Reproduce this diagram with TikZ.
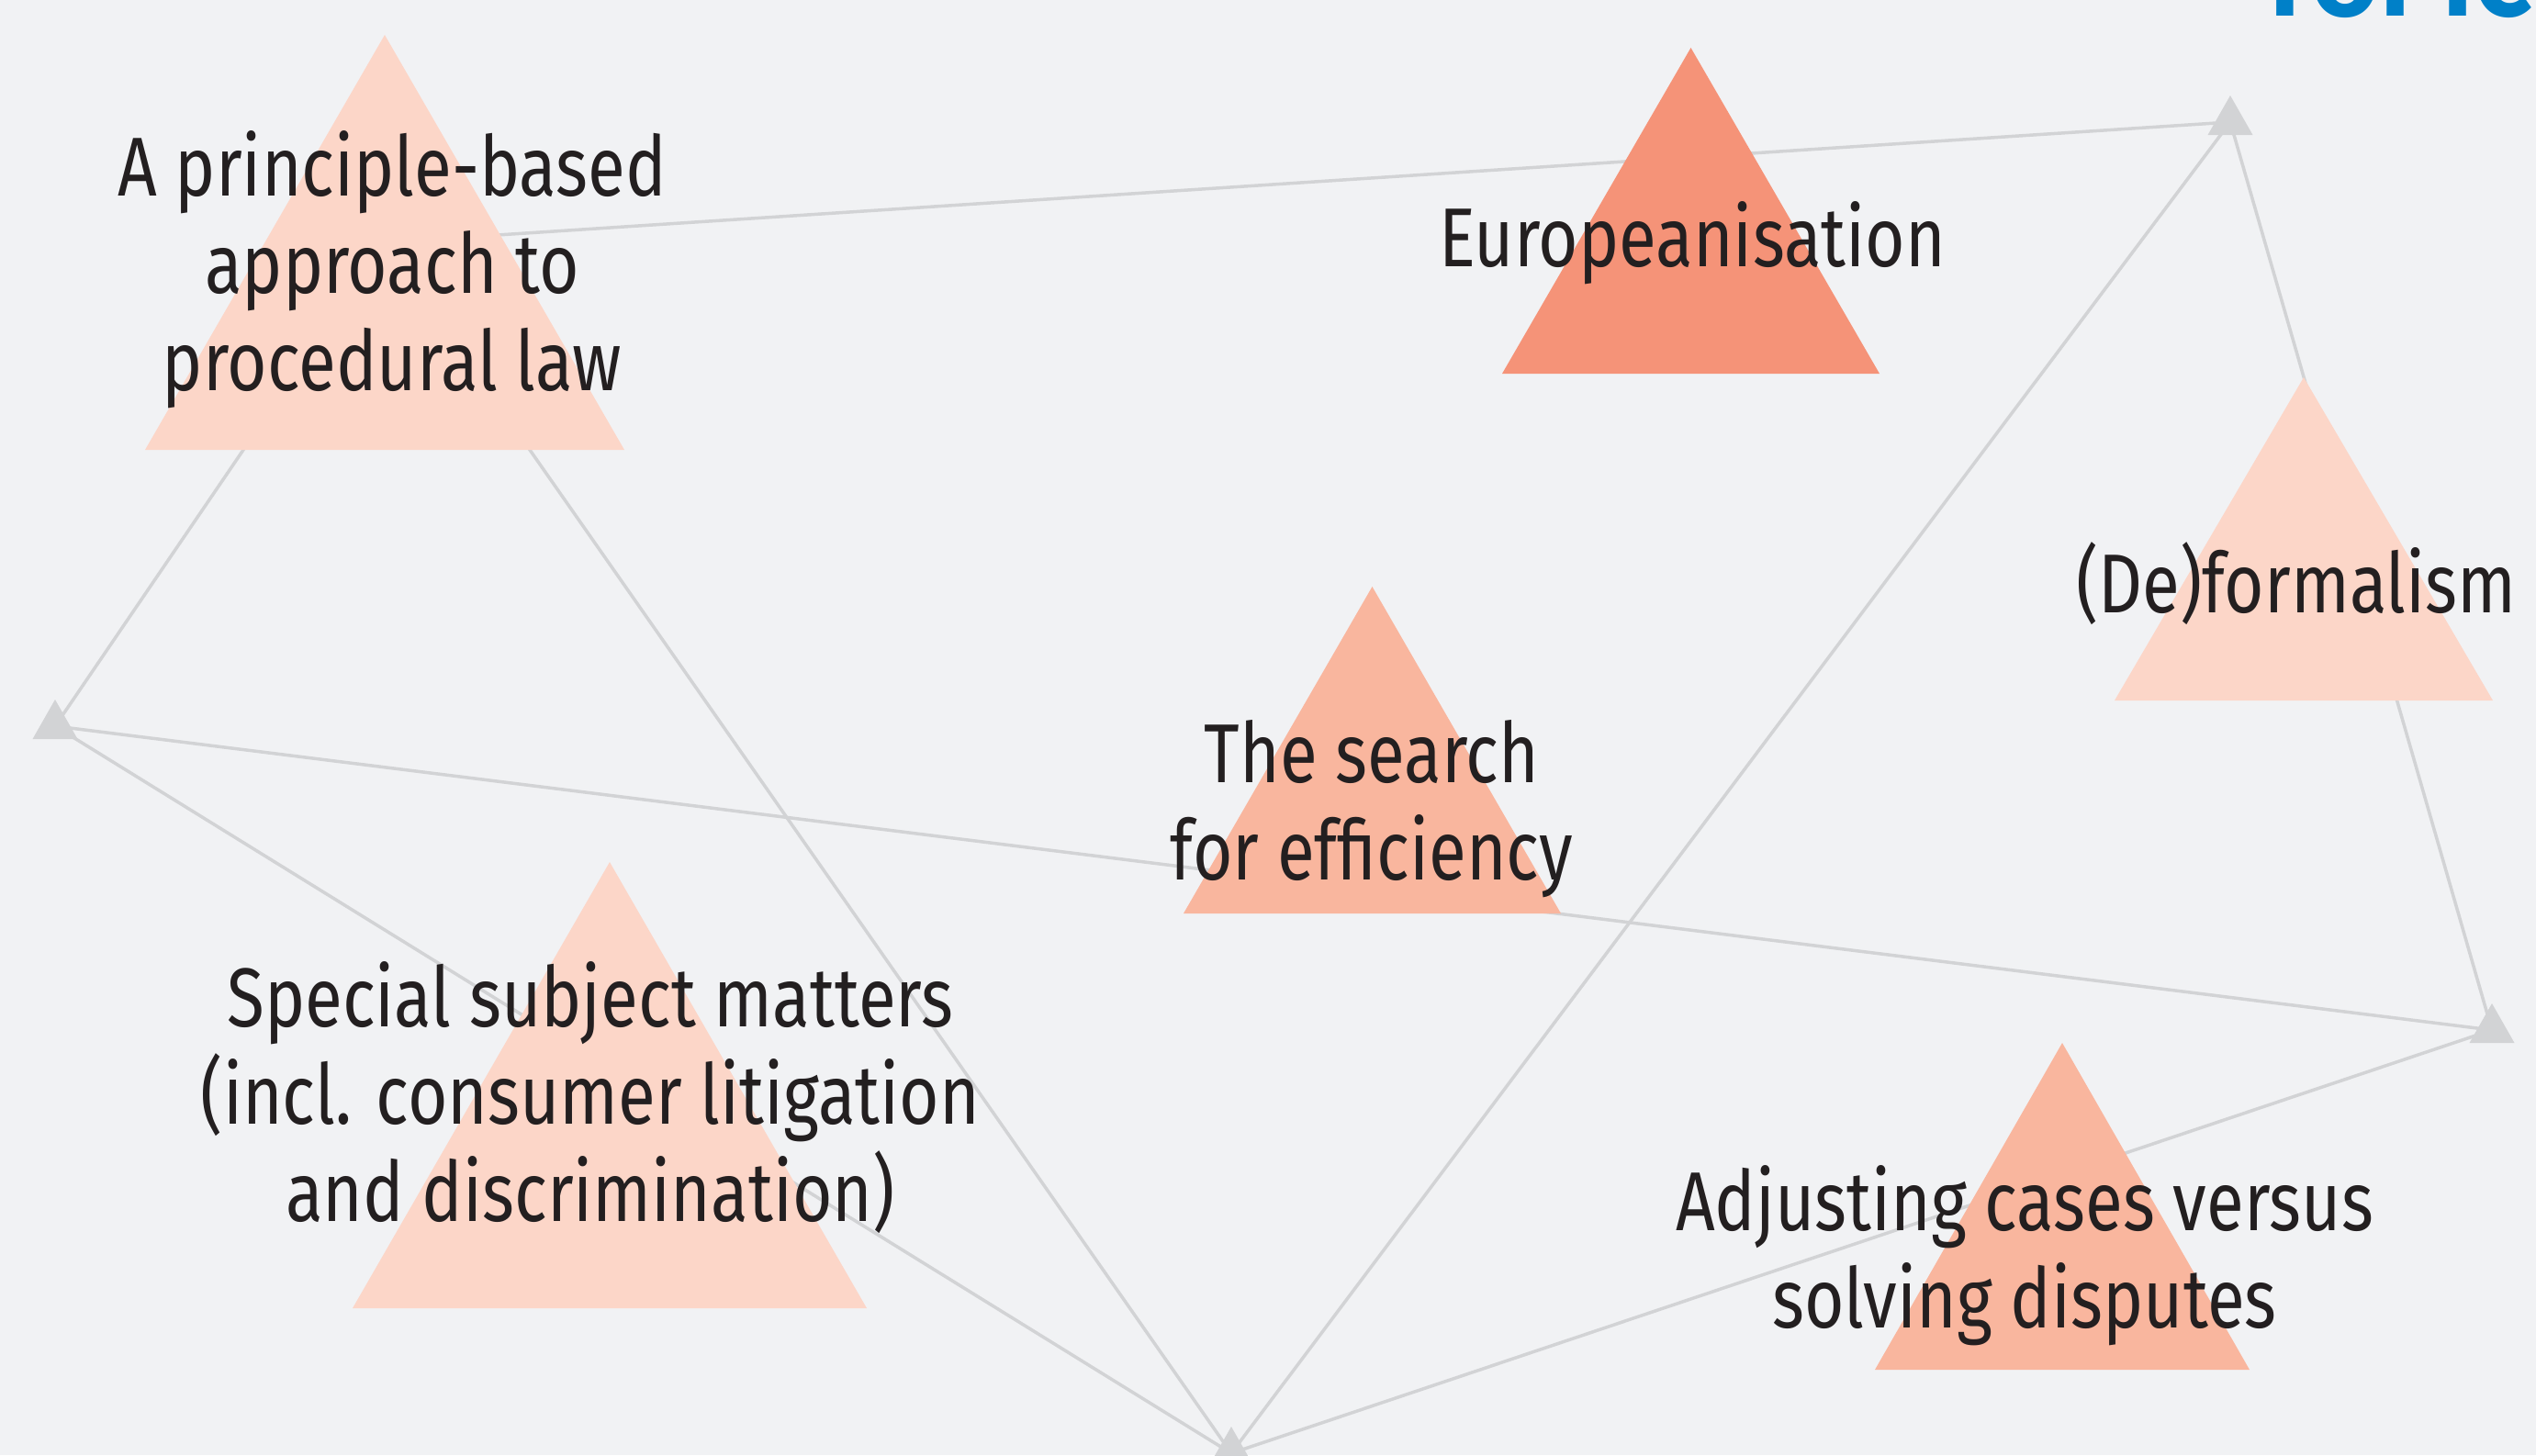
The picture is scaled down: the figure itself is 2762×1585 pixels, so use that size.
\documentclass[tikz,border=0pt]{standalone}
\usepackage{fontspec}
\setmainfont{Fira Sans}[FakeStretch=0.82]
\newfontfamily\titlefont{Fira Sans}[FakeStretch=0.9]
\definecolor{bg}{HTML}{F1F2F4}
\definecolor{tlight}{HTML}{FCD6C8}
\definecolor{tmid}{HTML}{F9B69E}
\definecolor{tdark}{HTML}{F59378}
\definecolor{gtri}{HTML}{D2D3D5}
\definecolor{gline}{HTML}{D2D3D5}
\definecolor{ink}{HTML}{231F20}
\definecolor{topicblue}{HTML}{0080C8}
\tikzset{
  link/.style={draw=gline, line width=3.5pt},
  lbl/.style={text=ink, align=center, inner sep=0pt, anchor=base,
    font=\fontsize{91}{106}\selectfont},
}
\newcommand{\bigtri}[5]{% fill, left x, right x, base y, apex y
  \fill[#1] (#2,#4) -- ({(#2+#3)/2},#5) -- (#3,#4) -- cycle;}
\newcommand{\smalltri}[3]{% centroid x, apex y, base y
  \fill[gtri] ({#1-24.5},#3) -- (#1,#2) -- ({#1+24.5},#3) -- cycle;}
\begin{document}
\begin{tikzpicture}[x=1pt,y=-1pt]
\useasboundingbox (0,0) rectangle (2762,1585);
\fill[bg] (0,0) rectangle (2762,1585);
\clip (0,0) rectangle (2762,1585);

% hub points (centroids of the small grey triangles, and the hub inside the first triangle)
\coordinate (hub) at (419,264);
\coordinate (g1) at (2429,133);
\coordinate (g2) at (60,791);
\coordinate (g3) at (1341,1583);
\coordinate (g4) at (2714,1122);

% connectors
\draw[link] (hub) -- (g1);
\draw[link] (hub) -- (g2);
\draw[link] (hub) -- (g3);
\draw[link] (g1) -- (g3);
\draw[link] (g1) -- (g4);
\draw[link] (g2) -- (g4);
\draw[link] (g2) -- (g3);
\draw[link] (g3) -- (g4);

% small grey triangles
\smalltri{2429}{104}{147}
\smalltri{60}{762}{805}
\smalltri{1341}{1554}{1597}
\smalltri{2714}{1093}{1136}

% big triangles
\bigtri{tlight}{158}{680}{490}{38}
\bigtri{tdark}{1636}{2047}{407}{52}
\bigtri{tmid}{1289}{1700}{995}{639}
\bigtri{tlight}{2303}{2715}{763}{411}
\bigtri{tlight}{384}{944}{1425}{939}
\bigtri{tmid}{2042}{2450}{1492}{1136}

% labels (anchor = baseline of the last line)
\node[lbl] (principle) at (427,425) {A principle-based\\approach to\\procedural law};
\node[lbl] (europe) at (1843,290) {Europeanisation};
\node[lbl] (efficiency) at (1494,958) {The search\\for efficiency};
\node[lbl] (deform) at (2501,667) {(De)formalism};
\node[lbl] (special) at (643,1330) {Special subject matters\\(incl. consumer litigation\\and discrimination)};
\node[lbl] (adjust) at (2205,1446) {Adjusting cases versus\\solving disputes};

% title, cut by the top edge
\node[anchor=base west, inner sep=0pt, text=topicblue,
  font=\titlefont\bfseries\fontsize{125}{125}\selectfont] (topic) at (2458,17) {TOPIC};
\end{tikzpicture}
\end{document}
